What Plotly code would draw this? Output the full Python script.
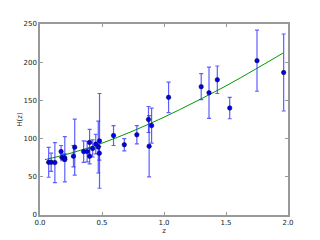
import plotly.graph_objects as go

# observed H(z) points with 1-sigma errors
z_obs = [0.07, 0.09, 0.12, 0.17, 0.179, 0.199, 0.2, 0.27, 0.28, 0.352,
         0.3802, 0.4, 0.4004, 0.4247, 0.4497, 0.47, 0.4783, 0.48, 0.593, 0.68,
         0.781, 0.875, 0.88, 0.9, 1.037, 1.3, 1.363, 1.43, 1.53, 1.75, 1.965]
h_obs = [69, 69, 68.6, 83, 75, 75, 72.9, 77, 88.8, 83,
         83, 95, 77, 87.1, 92.8, 89, 80.9, 97, 104, 92,
         105, 125, 90, 117, 154, 168, 160, 177, 140, 202, 186.5]
h_err = [19.6, 12, 26.2, 8, 4, 5, 29.6, 14, 36.6, 14,
         13.5, 17, 10.2, 11.2, 12.9, 34, 9, 62, 13, 8,
         12, 17, 40, 23, 20, 17, 33.6, 18, 14, 40, 50.4]

# model curve
z_fit = [0.04, 0.25, 0.5, 0.75, 1.0, 1.25, 1.5, 1.75, 1.96]
h_fit = [72.5, 81, 94, 110, 128, 148, 169, 192, 212]

x_ticks = [0.0, 0.5, 1.0, 1.5, 2.0]
y_ticks = [0, 50, 100, 150, 200, 250]

fig = go.Figure()

fig.add_trace(go.Scatter(
    x=z_fit, y=h_fit, mode='lines', line_shape='spline',
    line=dict(color='#009900', width=1), hoverinfo='skip'))

fig.add_trace(go.Scatter(
    x=z_obs, y=h_obs, mode='markers',
    marker=dict(color='#0000ee', size=4.5, line=dict(color='#000033', width=0.5)),
    error_y=dict(type='data', array=h_err, color='rgba(40,40,255,0.75)',
                 thickness=1.2, width=2)))

axis_style = dict(
    showgrid=False, zeroline=False, showline=True, mirror='allticks',
    linecolor='#999999', linewidth=1.5, ticks='inside', ticklen=3,
    tickcolor='#999999', automargin=False,
    tickfont=dict(family='DejaVu Sans', size=7, color='#222222'))

# page body has an 8px margin, so margins are trimmed to land the axes where the reference has them
fig.update_layout(
    width=320, height=240,
    margin=dict(l=32, r=40, t=16, b=33),
    paper_bgcolor='white', plot_bgcolor='white',
    showlegend=False,
    xaxis=dict(range=[0, 2.0], tickvals=x_ticks, ticktext=['0.0', '0.5', '1.0', '1.5', '2.0'],
               title=dict(text='z', font=dict(family='DejaVu Sans', size=7, color='#222222'),
                          standoff=0),
               **axis_style),
    yaxis=dict(range=[0, 250], tickvals=y_ticks,
               title=dict(text='H(z)', font=dict(family='DejaVu Sans', size=7, color='#222222'),
                          standoff=0),
               **axis_style),
)

fig.write_html("out.html")
